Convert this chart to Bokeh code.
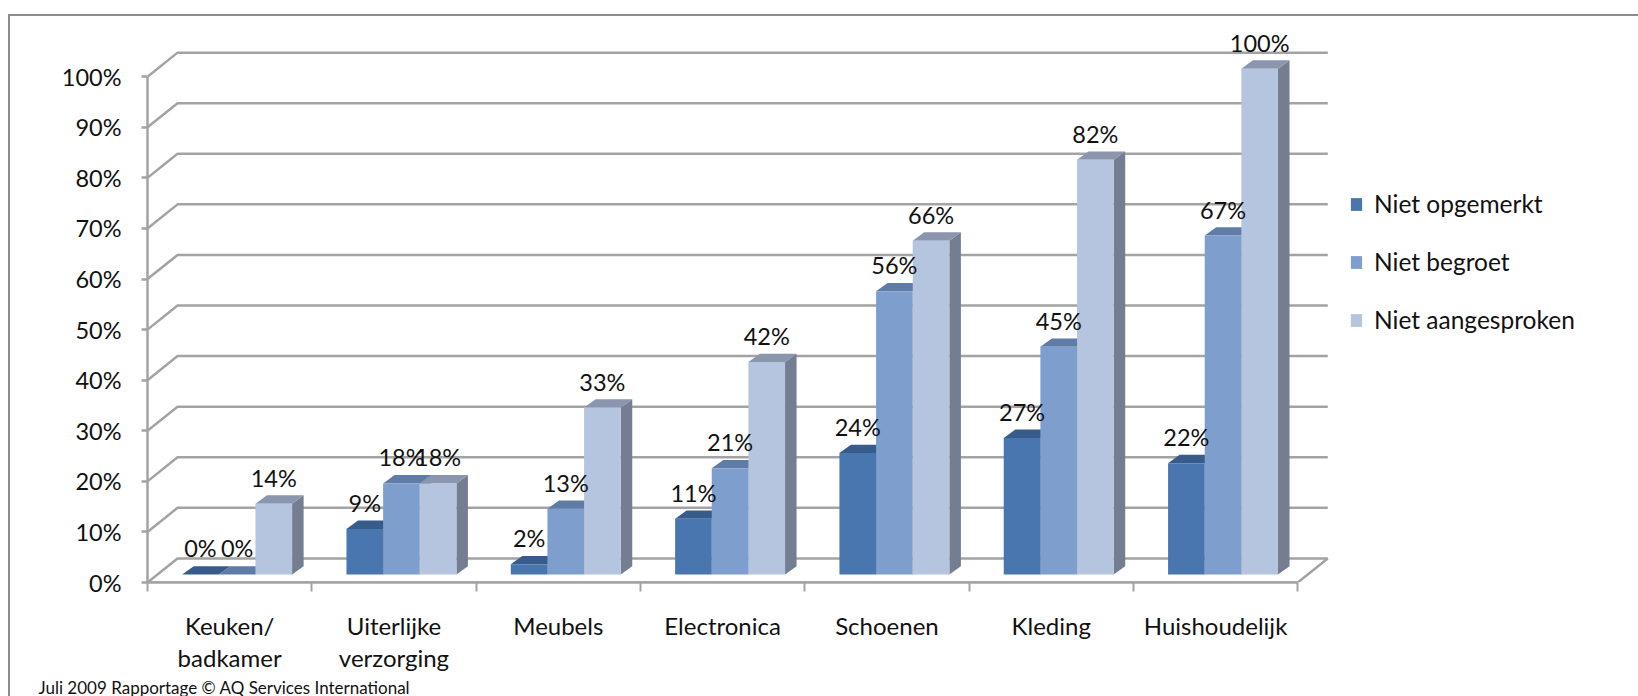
from bokeh.embed import file_html
from bokeh.models import FixedTicker, Legend, LegendItem, LinearAxis, Range1d, Title
from bokeh.plotting import figure
from bokeh.resources import INLINE

# Survey results per department (percent)
categories = ["Keuken/\nbadkamer", "Uiterlijke\nverzorging", "Meubels", "Electronica",
              "Schoenen", "Kleding", "Huishoudelijk"]
niet_opgemerkt = [0, 9, 2, 11, 24, 27, 22]
niet_begroet = [0, 18, 13, 21, 56, 45, 67]
niet_aangesproken = [14, 18, 33, 42, 66, 82, 100]
series_names = ["Niet opgemerkt", "Niet begroet", "Niet aangesproken"]
y_ticks = [0, 10, 20, 30, 40, 50, 60, 70, 80, 90, 100]
footer = "Juli 2009 Rapportage © AQ Services International"

front_colors = ["#4a76b0", "#7e9fcd", "#b5c4df"]
top_colors = ["#375c8c", "#5f7ca6", "#8996ae"]
side_colors = ["#31527d", "#5a7298", "#757e90"]
grid_color = "#a3a3a3"
text_color = "#111111"
FONT = "Lato"
NUM_PX = "23.5px"
TXT_PX = "24px"

W, H = 1638, 696
BOX_L, BOX_T, BOX_LINE = 8, 14, 2
AXIS_X, AXIS_Y = 147, 580
CAT_PX = 164.1
PCT_PX = 5.04
n_cat = len(categories)

# Pixel sizes of the pseudo-3D projection, expressed in data units
wall_dx, wall_dy = 30 / CAT_PX, 24 / PCT_PX
floor_dy = 8 / PCT_PX
bar_w = 36.6 / CAT_PX
depth_dx, depth_dy = 11.5 / CAT_PX, 8.3 / PCT_PX
group_center = (236.5 - AXIS_X) / CAT_PX

p = figure(width=W - BOX_L, height=H - BOX_T, output_backend="svg", toolbar_location=None,
           x_range=Range1d(0, (W - AXIS_X) / CAT_PX),
           y_range=Range1d(0, (AXIS_Y - BOX_T - BOX_LINE) / PCT_PX),
           x_axis_type=None, y_axis_type=None,
           min_border_left=AXIS_X - BOX_L - BOX_LINE, min_border_bottom=H - AXIS_Y,
           min_border_top=0, min_border_right=0,
           margin=(BOX_T, 0, 0, BOX_L),
           styles={"border-left": f"{BOX_LINE}px solid #8c8c8c",
                   "border-top": f"{BOX_LINE}px solid #8c8c8c",
                   "box-sizing": "border-box"})
p.outline_line_color = None
p.grid.visible = False
p.background_fill_color = "white"
p.border_fill_color = "white"

# Walls and floor of the chart box
wall_xs, wall_ys = [], []
for t in y_ticks:
    wall_xs.append([0, wall_dx, n_cat + wall_dx])
    wall_ys.append([t, t + wall_dy, t + wall_dy])
wall_xs.append([0, n_cat, n_cat + wall_dx])
wall_ys.append([0, 0, wall_dy])
p.multi_line(wall_xs, wall_ys, line_color=grid_color, line_width=2.5)

# Bars: side face, top face, then front face, series by series
legend_items = []
all_series = [niet_opgemerkt, niet_begroet, niet_aangesproken]
for s, vals in enumerate(all_series):
    x0 = [i + group_center + (s - 1.5) * bar_w for i in range(n_cat)]
    x1 = [x + bar_w for x in x0]
    tops = [v + floor_dy for v in vals]
    p.patches([[b, b + depth_dx, b + depth_dx, b] for b in x1],
              [[floor_dy, floor_dy + depth_dy, t + depth_dy, t] for t in tops],
              fill_color=side_colors[s], line_color=None)
    p.patches([[a, a + depth_dx, b + depth_dx, b] for a, b in zip(x0, x1)],
              [[t, t + depth_dy, t + depth_dy, t] for t in tops],
              fill_color=top_colors[s], line_color=None)
    r = p.quad(left=x0, right=x1, bottom=floor_dy, top=tops,
               fill_color=front_colors[s], line_color=None)
    legend_items.append(LegendItem(label=series_names[s], renderers=[r]))

# Value labels above each bar
for s, vals in enumerate(all_series):
    xc = [i + group_center + (s - 1) * bar_w for i in range(n_cat)]
    p.text(x=xc, y=[v + floor_dy for v in vals], text=[f"{v}%" for v in vals],
           text_align="center", text_baseline="middle", text_font={"value": FONT},
           text_font_size=NUM_PX, text_color=text_color, x_offset=0, y_offset=-26)

# Value axis on the front plane
yaxis = LinearAxis(ticker=FixedTicker(ticks=y_ticks),
                   major_label_overrides={t: f"{t}%" for t in y_ticks})
yaxis.bounds = (0, 100)
yaxis.axis_line_color = grid_color
yaxis.axis_line_width = 2.5
yaxis.major_tick_line_color = grid_color
yaxis.major_tick_line_width = 2.5
yaxis.major_tick_out = 6
yaxis.major_tick_in = 0
yaxis.minor_tick_line_color = None
yaxis.major_label_standoff = 20
yaxis.major_label_text_font = FONT
yaxis.major_label_text_font_size = NUM_PX
yaxis.major_label_text_color = text_color
p.add_layout(yaxis, "left")

# Category axis: ticks on the boundaries, names in the middle
centers = [i + 0.5 for i in range(n_cat)]
xaxis = LinearAxis(ticker=FixedTicker(ticks=centers, minor_ticks=list(range(n_cat + 1))),
                   major_label_overrides=dict(zip(centers, categories)))
xaxis.bounds = (0, n_cat)
xaxis.axis_line_color = grid_color
xaxis.axis_line_width = 2.5
xaxis.major_tick_line_color = None
xaxis.minor_tick_line_color = grid_color
xaxis.minor_tick_line_width = 2
xaxis.minor_tick_out = 9
xaxis.minor_tick_in = 0
xaxis.major_tick_out = 0
xaxis.major_tick_in = 0
xaxis.major_label_standoff = 19
xaxis.major_label_text_font = FONT
xaxis.major_label_text_font_size = TXT_PX
xaxis.major_label_text_line_height = 1.13
xaxis.major_label_text_color = text_color
p.add_layout(xaxis, "below")

legend = Legend(items=legend_items, location=(1202, 248), orientation="vertical",
                background_fill_alpha=0, border_line_color=None,
                margin=0, padding=0, spacing=29, label_height=27,
                glyph_width=14, glyph_height=16, label_standoff=11,
                label_text_font=FONT, label_text_font_size="24.5px",
                label_text_color=text_color)
p.add_layout(legend, "center")

# Footer line under the category names, reaching left of the plot area
p.add_layout(Title(text=footer, align="left", offset=38 - AXIS_X, standoff=-2,
                   text_font=FONT, text_font_size="17px", text_font_style="normal",
                   text_line_height=1.0, text_color=text_color), "below")

open("out.html", "w").write(file_html(p, INLINE))
